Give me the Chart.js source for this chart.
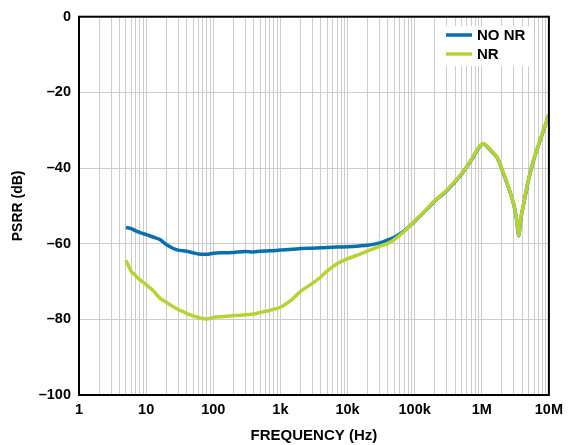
<!DOCTYPE html>
<html>
<head>
<meta charset="utf-8">
<script src="https://cdn.jsdelivr.net/npm/chart.js@4.4.0/dist/chart.umd.min.js"></script>
<style>
  html, body { margin: 0; padding: 0; background: #fff; }
  #wrap { width: 569px; height: 445px; }
</style>
</head>
<body>
<div id="wrap"><canvas id="psrr" width="569" height="445"></canvas></div>
<script>
// frequency points (Hz)
const freq = [5, 6, 7, 8, 10, 13, 16, 20, 25, 30, 40, 50, 60, 80, 100, 130, 160, 200, 300, 400, 500, 700,
  1000, 1500, 2000, 3000, 4000, 5000, 7000, 10000, 15000, 20000, 30000, 40000, 50000, 70000,
  100000, 150000, 200000, 300000, 500000, 700000, 900000, 1050000, 1200000, 1450000, 1700000,
  2100000, 2500000, 3000000, 3300000, 3550000, 3800000, 4200000, 5000000, 6000000, 7500000, 9000000, 10000000];

const psrrNoNr = [-55.7, -56.0, -56.6, -57.0, -57.6, -58.3, -58.9, -60.2, -61.2, -61.7, -62.0, -62.4, -62.7, -62.8, -62.5,
  -62.4, -62.4, -62.3, -62.1, -62.2, -62.0, -61.9,
  -61.7, -61.5, -61.3, -61.2, -61.1, -61.0, -60.9, -60.8, -60.6, -60.4, -59.8, -59.0, -58.3, -56.6,
  -54.1, -51.0, -48.7, -46.0, -41.6, -37.9, -34.7, -33.6, -34.3, -35.9, -37.3,
  -41.4, -45.1, -49.7, -53.6, -57.9, -53.6, -49.6, -42.9, -37.6, -32.4, -28.3, -25.9];

const psrrNr = [-64.4, -67.3, -68.5, -69.5, -70.8, -72.6, -74.4, -75.5, -76.6, -77.4, -78.4, -79.1, -79.5, -79.9, -79.5,
  -79.3, -79.2, -79.0, -78.8, -78.6, -78.2, -77.6,
  -76.8, -74.7, -72.6, -70.5, -68.8, -67.2, -65.3, -64.0, -62.8, -61.9, -60.7, -59.9, -58.9, -56.8,
  -54.0, -50.9, -48.6, -45.9, -41.5, -37.8, -34.6, -33.5, -34.2, -35.8, -37.2,
  -41.3, -45.0, -49.6, -53.5, -57.8, -53.5, -49.5, -42.8, -37.5, -32.3, -28.2, -25.8];

const seriesNames = ['NO NR', 'NR'];
const seriesColors = ['#0a6fb0', '#b5d334'];

const xMajor = [1, 10, 100, 1000, 10000, 100000, 1000000, 10000000];
const xTickLabels = ['1', '10', '100', '1k', '10k', '100k', '1M', '10M'];
const yTicks = [0, -20, -40, -60, -80, -100];

const FONT = '"Liberation Sans", Arial, Helvetica, sans-serif';

function pts(vals) {
  return freq.map((f, i) => ({x: f, y: vals[i]}));
}

const frameAndLegend = {
  id: 'frameAndLegend',
  afterDatasetsDraw(chart) {
    const {ctx, chartArea: a} = chart;
    ctx.save();
    // legend box
    ctx.fillStyle = '#fff';
    ctx.fillRect(445, 26, 87, 40);
    ctx.font = 'bold 15px ' + FONT;
    ctx.textBaseline = 'middle';
    seriesNames.forEach((name, i) => {
      const y = 35 + i * 19;
      ctx.strokeStyle = seriesColors[i];
      ctx.lineWidth = 3.5;
      ctx.beginPath();
      ctx.moveTo(446, y);
      ctx.lineTo(472, y);
      ctx.stroke();
      ctx.fillStyle = '#000';
      ctx.fillText(name, 477, y + 1);
    });
    // plot frame
    ctx.strokeStyle = '#000';
    ctx.lineWidth = 2;
    ctx.strokeRect(a.left, a.top, a.right - a.left, a.bottom - a.top);
    ctx.restore();
  }
};

new Chart('psrr', {
  type: 'line',
  data: {
    datasets: [
      {label: seriesNames[0], data: pts(psrrNoNr), borderColor: seriesColors[0], borderWidth: 3.5,
        pointRadius: 0, tension: 0.3, order: 2},
      {label: seriesNames[1], data: pts(psrrNr), borderColor: seriesColors[1], borderWidth: 3.5,
        pointRadius: 0, tension: 0.3, order: 1}
    ]
  },
  options: {
    responsive: false,
    animation: false,
    layout: {padding: {left: 0, right: 17, top: 16, bottom: 0}},
    plugins: {legend: {display: false}, tooltip: {enabled: false}},
    scales: {
      x: {
        type: 'logarithmic',
        min: 1,
        max: 10000000,
        afterFit: s => { s.height = 50; },
        afterBuildTicks: s => {
          const t = [];
          xMajor.forEach((m, i) => {
            if (i === xMajor.length - 1) { t.push({value: m}); return; }
            for (let k = 1; k < 10; k++) t.push({value: m * k});
          });
          s.ticks = t;
        },
        grid: {color: '#cccccc', lineWidth: 1, drawTicks: false},
        border: {display: false},
        ticks: {
          autoSkip: false,
          maxRotation: 0,
          padding: 6,
          color: '#000',
          font: {family: FONT, size: 14.5, weight: 'bold'},
          callback: v => {
            const i = xMajor.indexOf(v);
            return i >= 0 ? xTickLabels[i] : '';
          }
        },
        title: {display: true, text: 'FREQUENCY (Hz)', color: '#000',
          font: {family: FONT, size: 15, weight: 'bold'}, padding: {top: 0, bottom: 0}}
      },
      y: {
        min: -100,
        max: 0,
        afterFit: s => { s.width = 79; },
        afterBuildTicks: s => { s.ticks = yTicks.map(v => ({value: v})); },
        grid: {color: '#cccccc', lineWidth: 1, drawTicks: false},
        border: {display: false},
        ticks: {
          padding: 8,
          color: '#000',
          font: {family: FONT, size: 14.5, weight: 'bold'},
          callback: v => v < 0 ? '\u2013' + Math.abs(v) : String(v)
        },
        title: {display: true, text: 'PSRR (dB)', color: '#000',
          font: {family: FONT, size: 14, weight: 'bold'}, padding: {top: 10, bottom: 0}}
      }
    }
  },
  plugins: [frameAndLegend]
});
</script>
</body>
</html>
